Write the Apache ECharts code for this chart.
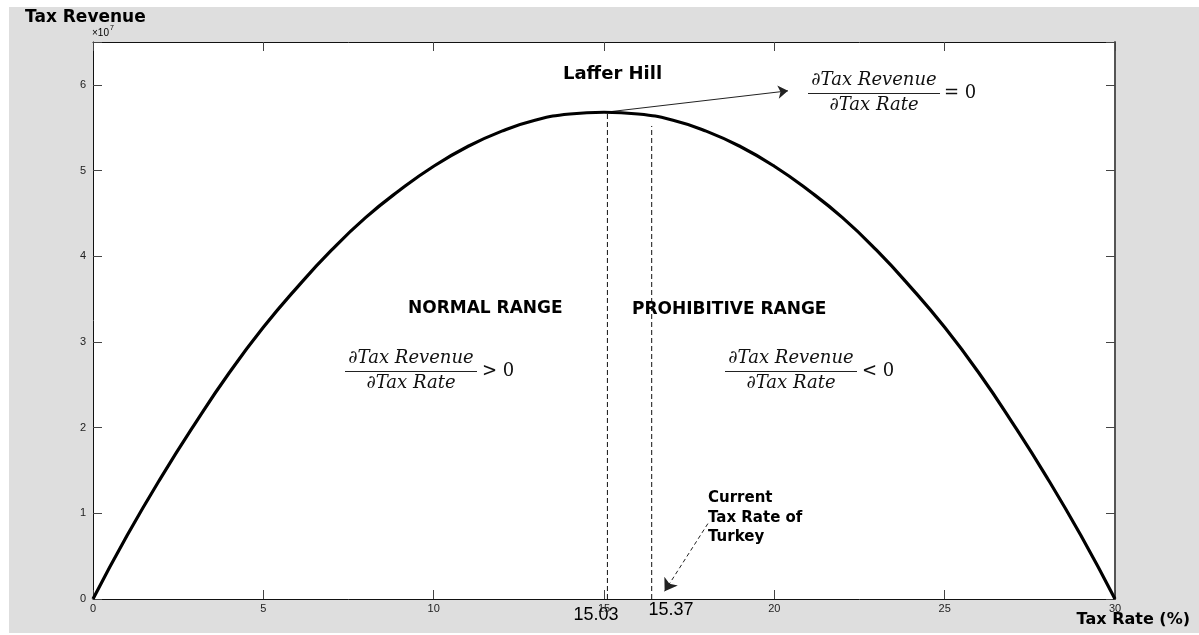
<!DOCTYPE html>
<html>
<head>
<meta charset="utf-8">
<script src="https://cdn.jsdelivr.net/npm/echarts@6/dist/echarts.min.js"></script>
<style>
  html, body { margin: 0; padding: 0; background: #fff; }
  #main { width: 1199px; height: 635px; }
</style>
</head>
<body>
<div id="main"></div>
<script>
// tax rate (%) and revenue (x 10^7)
const taxRate = [0, 1, 2, 3, 4, 5, 6, 7, 8, 9, 10, 11, 12, 13, 14, 15,
  16, 17, 18, 19, 20, 21, 22, 23, 24, 25, 26, 27, 28, 29, 30];
const revenue = [0, 0.74, 1.42, 2.05, 2.64, 3.17, 3.64, 4.07, 4.45, 4.77, 5.05,
  5.28, 5.46, 5.59, 5.66, 5.68, 5.66, 5.59, 5.46, 5.28, 5.05, 4.77, 4.45, 4.07,
  3.64, 3.17, 2.64, 2.05, 1.42, 0.74, 0];

const xTicks = [0, 5, 10, 15, 20, 25, 30];
const yTicks = [0, 1, 2, 3, 4, 5, 6];

// dashed guides (x position as drawn, top value, label)
const guideRate = [15.1, 16.4];
const guideTop = [5.68, 5.52];
const guideLabel = ['15.03', '15.37'];

// annotation arrows [from, to]
const peakArrow = [[15.03, 5.68], [20.4, 5.93]];
const currentArrow = [[18.05, 0.88], [16.78, 0.09]];

const chart = echarts.init(document.getElementById('main'));

const axisCommon = {
  type: 'value',
  axisLine: { show: true, onZero: false, lineStyle: { color: '#111', width: 1 } },
  axisTick: { show: true, inside: true, length: 9, lineStyle: { color: '#444' } },
  splitLine: { show: false }
};

const bold = 'bold 15px "DejaVu Sans"';
const mathFont = 'italic 18px "DejaVu Serif"';

function fraction(cx, y, op, opX) {
  return [
    { type: 'text', style: { text: '\u2202Tax Revenue', x: cx, y: y, font: mathFont, fill: '#111', align: 'center', verticalAlign: 'middle', textAlign: 'center', textVerticalAlign: 'middle' } },
    { type: 'rect', shape: { x: cx - 66, y: y + 13, width: 132, height: 1 }, style: { fill: '#222' } },
    { type: 'text', style: { text: '\u2202Tax Rate', x: cx, y: y + 25, font: mathFont, fill: '#111', align: 'center', verticalAlign: 'middle', textAlign: 'center', textVerticalAlign: 'middle' } },
    { type: 'text', style: { text: op, x: opX, y: y + 13, font: '18px "DejaVu Serif"', fill: '#111', align: 'left', verticalAlign: 'middle', textAlign: 'left', textVerticalAlign: 'middle' } }
  ];
}

function label(text, x, y, font, align) {
  return { type: 'text', style: { text: text, x: x, y: y, font: font, fill: '#000', align: align || 'left', verticalAlign: 'middle', textAlign: align || 'left', textVerticalAlign: 'middle' } };
}

const option = {
  backgroundColor: '#dedede',
  animation: false,
  grid: { left: 93, top: 42, right: 84, bottom: 36, show: true, backgroundColor: '#fff', borderWidth: 0 },
  xAxis: [
    Object.assign({}, axisCommon, {
      min: 0, max: 30, interval: 5, position: 'bottom',
      axisLabel: { fontSize: 11, color: '#222', margin: 4, fontFamily: 'Liberation Sans',
        formatter: v => xTicks.includes(v) ? String(v) : '' }
    }),
    Object.assign({}, axisCommon, {
      min: 0, max: 30, interval: 5, position: 'top', axisLabel: { show: false }
    })
  ],
  yAxis: [
    Object.assign({}, axisCommon, {
      min: 0, max: 6.5, interval: 1, position: 'left',
      axisLabel: { fontSize: 11, color: '#222', margin: 7, fontFamily: 'Liberation Sans',
        formatter: v => yTicks.includes(v) ? String(v) : '' }
    }),
    Object.assign({}, axisCommon, {
      min: 0, max: 6.5, interval: 1, position: 'right', axisLabel: { show: false },
      axisLine: { show: true, onZero: false, lineStyle: { color: '#555', width: 2 } }
    })
  ],
  series: [
    {
      type: 'line',
      data: taxRate.map((t, i) => [t, revenue[i]]),
      smooth: true,
      showSymbol: false,
      lineStyle: { color: '#000', width: 3.2 },
      z: 5
    },
    ...guideRate.map((g, i) => ({
      type: 'line',
      data: [[g, 0], [g, guideTop[i]]],
      showSymbol: false,
      lineStyle: { color: '#111', width: 1, type: [5, 3] },
      z: 3
    })),
    {
      type: 'lines',
      coordinateSystem: 'cartesian2d',
      symbol: ['none', 'arrow'],
      symbolSize: 10,
      lineStyle: { color: '#222', width: 1, opacity: 1 },
      data: [{ coords: peakArrow }],
      z: 4
    },
    {
      type: 'lines',
      coordinateSystem: 'cartesian2d',
      symbol: ['none', 'arrow'],
      symbolSize: 12,
      lineStyle: { color: '#222', width: 1, opacity: 1, type: [4, 3] },
      data: [{ coords: currentArrow }],
      z: 4
    }
  ],
  graphic: [
    { type: 'rect', shape: { x: 0, y: 0, width: 1199, height: 7 }, style: { fill: '#fff' } },
    { type: 'rect', shape: { x: 0, y: 0, width: 9, height: 635 }, style: { fill: '#fff' } },
    { type: 'rect', shape: { x: 0, y: 633, width: 1199, height: 2 }, style: { fill: '#fff' } },
    label('Tax Revenue', 25, 18, 'bold 17px "DejaVu Sans"'),
    label('\u00d710', 92, 33, '10px "Liberation Sans"'),
    label('7', 110, 28, '7px "Liberation Sans"'),
    label('Tax Rate (%)', 1190, 620, 'bold 16px "DejaVu Sans"', 'right'),
    label('Laffer Hill', 563, 74, 'bold 18px "DejaVu Sans"'),
    label('NORMAL RANGE', 408, 309, 'bold 17px "DejaVu Sans"'),
    label('PROHIBITIVE RANGE', 632, 310, 'bold 17px "DejaVu Sans"'),
    label('Current', 708, 498, bold),
    label('Tax Rate of', 708, 518, bold),
    label('Turkey', 708, 537, bold),
    label(guideLabel[0], 596, 615, '18px "Liberation Sans"', 'center'),
    label(guideLabel[1], 671, 610, '18px "Liberation Sans"', 'center'),
    ...fraction(874, 80, '= 0', 944),
    ...fraction(411, 358, '> 0', 482),
    ...fraction(791, 358, '< 0', 862)
  ]
};

chart.setOption(option);
</script>
</body>
</html>
